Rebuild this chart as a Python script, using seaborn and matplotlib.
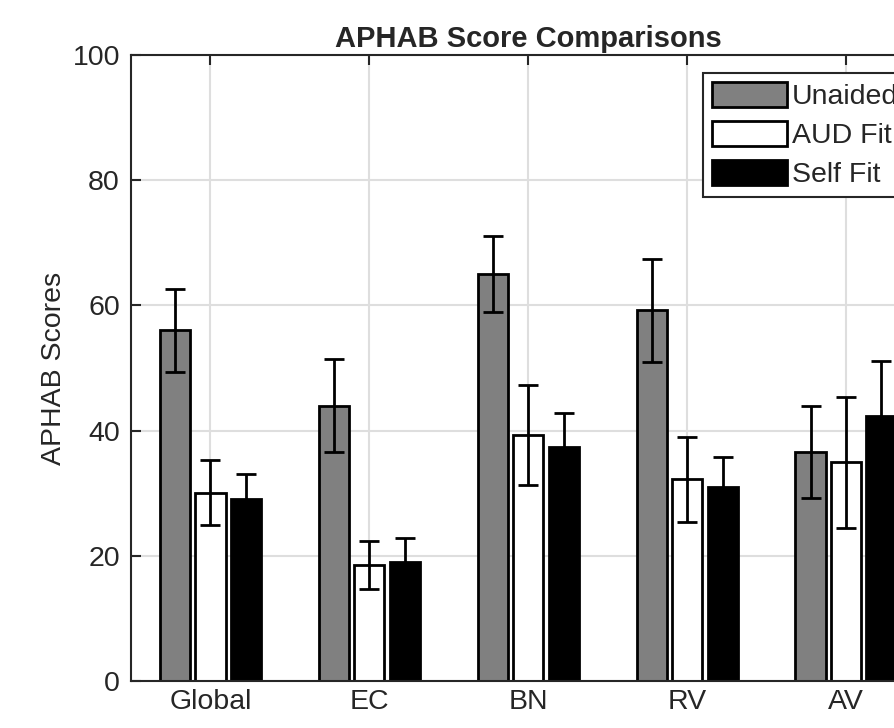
import matplotlib
matplotlib.use("Agg")
import matplotlib.pyplot as plt
import seaborn as sns
import pandas as pd
import numpy as np

categories = ["Global", "EC", "BN", "RV", "AV"]
conditions = ["Unaided", "AUD Fit", "Self Fit"]
unaided = [56.0, 44.0, 65.0, 59.2, 36.6]
aud_fit = [30.1, 18.5, 39.3, 32.2, 34.9]
self_fit = [29.1, 19.0, 37.3, 31.0, 42.3]
unaided_err = [6.6, 7.5, 6.1, 8.2, 7.4]
aud_err = [5.2, 3.8, 8.0, 6.8, 10.5]
self_err = [4.0, 3.9, 5.5, 4.7, 8.8]

sns.set_theme(style="whitegrid")
plt.rcParams["font.family"] = ["Liberation Sans", "DejaVu Sans"]

values = [unaided, aud_fit, self_fit]
errors = [unaided_err, aud_err, self_err]
rows = []
for cond, vals, errs in zip(conditions, values, errors):
    for cat, v, e in zip(categories, vals, errs):
        rows.append({"Category": cat, "Condition": cond, "Score": v, "Err": e})
df = pd.DataFrame(rows)

fig = plt.figure(figsize=(8.95, 7.28), dpi=100)
ax = fig.add_axes([0.1464, 0.0646, 0.8876, 0.8599])

palette = {"Unaided": "#808080", "AUD Fit": "#ffffff", "Self Fit": "#000000"}
sns.barplot(data=df, x="Category", y="Score", hue="Condition", order=categories,
            hue_order=conditions, palette=palette, width=0.67, gap=0.15,
            edgecolor="black", linewidth=2.0, errorbar=None, ax=ax, zorder=2,
            saturation=1)

# error bars from bar positions
for cont, cond in zip(ax.containers, conditions):
    sub = df[df["Condition"] == cond].set_index("Category").loc[categories]
    xs = [p.get_x() + p.get_width() / 2 for p in cont.patches]
    ax.errorbar(xs, sub["Score"].values, yerr=sub["Err"].values, fmt="none",
                ecolor="black", elinewidth=2.0, capsize=7.5, capthick=2.0, zorder=3)

ax.set_xlim(-0.5, 4.5)
ax.set_ylim(0, 100)
ax.set_yticks([0, 20, 40, 60, 80, 100])
ax.set_xlabel("")
ax.set_ylabel("APHAB Scores", fontsize=20.5, color="#262626", labelpad=4)
ax.set_title("APHAB Score Comparisons", fontsize=21, fontweight="bold", pad=6)

ax.grid(True, color="#dedede", linewidth=1.5)
ax.set_axisbelow(True)
for s in ax.spines.values():
    s.set_color("#262626")
    s.set_linewidth(1.5)
ax.tick_params(axis="both", direction="in", length=7, width=1.5, color="#262626",
               labelsize=20.5, labelcolor="#262626", top=True, right=True,
               bottom=True, left=True, pad=8)
ax.tick_params(axis="x", pad=6)

ax.legend(loc="upper left", bbox_to_anchor=(0.72, 0.971), fontsize=20.5,
          frameon=True, fancybox=False, edgecolor="#262626", framealpha=1,
          handlelength=2.65, handleheight=1.0, handletextpad=0.17,
          labelspacing=0.37, borderpad=0.3, borderaxespad=0.0, title=None)
ax.get_legend().get_frame().set_linewidth(1.5)

fig.savefig("out.png", dpi=100)
